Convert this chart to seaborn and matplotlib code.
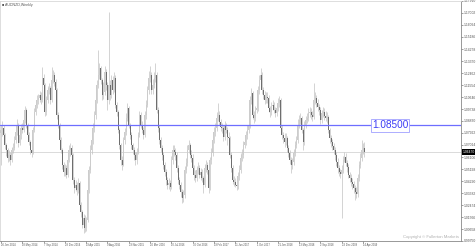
import matplotlib
matplotlib.use("Agg")
import matplotlib.pyplot as plt
import matplotlib.transforms as mtransforms
import numpy as np
import pandas as pd
import seaborn as sns

# ---------------- data (AUDNZD weekly) ----------------
first_open = 1.0790
closes = [
    1.0813, 1.0828, 1.0775, 1.0700, 1.0662, 1.0601, 1.0624, 1.0586, 1.0662, 1.0677,
    1.0738, 1.0798, 1.0851, 1.0715, 1.0775, 1.0828, 1.0813, 1.0889, 1.0964, 1.0851,
    1.0775, 1.0722, 1.0662, 1.0639, 1.0813, 1.0949, 1.1002, 1.1040, 1.1055, 1.1078,
    1.1040, 1.1206, 1.1153, 1.0949, 1.1040, 1.1116, 1.1131, 1.1040, 1.1191, 1.1229,
    1.1176, 1.1116, 1.0927, 1.0851, 1.0738, 1.0662, 1.0549, 1.0496, 1.0526, 1.0473,
    1.0586, 1.0662, 1.0677, 1.0624, 1.0435, 1.0375, 1.0397, 1.0360, 1.0413, 1.0246,
    1.0193, 1.0095, 1.0148, 1.0072, 1.0133, 1.0360, 1.0511, 1.0662, 1.0738, 1.0828,
    1.0927, 1.1040, 1.1153, 1.1229, 1.1282, 1.1191, 1.1078, 1.1100, 1.1252, 1.1153,
    1.1040, 1.1153, 1.1078, 1.1191, 1.1116, 1.1206, 1.1002, 1.0949, 1.0813, 1.0700,
    1.0586, 1.0549, 1.0738, 1.0798, 1.0904, 1.0980, 1.0851, 1.0775, 1.0700, 1.0662,
    1.0624, 1.0586, 1.0647, 1.0775, 1.0927, 1.0851, 1.0813, 1.0775, 1.0927, 1.1002,
    1.1116, 1.1206, 1.1229, 1.1116, 1.1153, 1.1206, 1.1229, 1.0964, 1.0828, 1.0738,
    1.0677, 1.0624, 1.0549, 1.0496, 1.0435, 1.0397, 1.0413, 1.0382, 1.0586, 1.0662,
    1.0647, 1.0624, 1.0526, 1.0435, 1.0397, 1.0344, 1.0299, 1.0322, 1.0511, 1.0564,
    1.0662, 1.0700, 1.0624, 1.0601, 1.0526, 1.0473, 1.0450, 1.0511, 1.0526, 1.0473,
    1.0496, 1.0450, 1.0397, 1.0526, 1.0549, 1.0511, 1.0375, 1.0586, 1.0639, 1.0738,
    1.0798, 1.0828, 1.0904, 1.0927, 1.0874, 1.0836, 1.0828, 1.0760, 1.0843, 1.0813,
    1.0760, 1.0753, 1.0624, 1.0526, 1.0435, 1.0420, 1.0397, 1.0390, 1.0465, 1.0511,
    1.0601, 1.0624, 1.0700, 1.0722, 1.0775, 1.0813, 1.0851, 1.1040, 1.1093, 1.0927,
    1.0904, 1.0964, 1.0980, 1.1116, 1.1191, 1.1229, 1.1116, 1.1078, 1.1040, 1.1063,
    1.1055, 1.0980, 1.0949, 1.0995, 1.1002, 1.0964, 1.0942, 1.0980, 1.1017, 1.1040,
    1.0828, 1.0775, 1.0753, 1.0722, 1.0753, 1.0677, 1.0639, 1.0586, 1.0549, 1.0571,
    1.0639, 1.0700, 1.0738, 1.0851, 1.0889, 1.0904, 1.0813, 1.0722, 1.0851, 1.0889,
    1.0904, 1.0942, 1.0949, 1.0927, 1.0911, 1.1040, 1.1055, 1.1017, 1.0987, 1.0964,
    1.0889, 1.0942, 1.0949, 1.0919, 1.0904, 1.0911, 1.0813, 1.0753, 1.0722, 1.0692,
    1.0662, 1.0624, 1.0571, 1.0526, 1.0496, 1.0481, 1.0511, 1.0586, 1.0609, 1.0564,
    1.0533, 1.0473, 1.0450, 1.0420, 1.0405, 1.0375, 1.0344, 1.0329, 1.0450, 1.0549,
    1.0601, 1.0662, 1.0677, 1.0647,
]
highs = [
    1.0850, 1.0880, 1.0850, 1.0790, 1.0720, 1.0680, 1.0660, 1.0650, 1.0690, 1.0720,
    1.0770, 1.0830, 1.0900, 1.0870, 1.0800, 1.0860, 1.0870, 1.0910, 1.1000, 1.0980,
    1.0870, 1.0800, 1.0740, 1.0690, 1.0840, 1.0980, 1.1040, 1.1080, 1.1090, 1.1110,
    1.1100, 1.1289, 1.1240, 1.1170, 1.1070, 1.1150, 1.1170, 1.1150, 1.1289, 1.1270,
    1.1250, 1.1200, 1.1130, 1.0950, 1.0870, 1.0760, 1.0680, 1.0570, 1.0560, 1.0550,
    1.0620, 1.0700, 1.0720, 1.0700, 1.0640, 1.0460, 1.0440, 1.0420, 1.0450, 1.0430,
    1.0270, 1.0210, 1.0180, 1.0170, 1.0160, 1.0390, 1.0540, 1.0700, 1.0770, 1.0870,
    1.0960, 1.1080, 1.1190, 1.1418, 1.1320, 1.1300, 1.1210, 1.1180, 1.1300, 1.1280,
    1.1180, 1.1705, 1.1190, 1.1230, 1.1220, 1.1250, 1.1230, 1.1030, 1.0970, 1.0830,
    1.0720, 1.0620, 1.0760, 1.0830, 1.0940, 1.1020, 1.1000, 1.0870, 1.0800, 1.0720,
    1.0690, 1.0650, 1.0680, 1.0800, 1.0960, 1.0950, 1.0880, 1.0840, 1.0960, 1.1040,
    1.1150, 1.1260, 1.1300, 1.1250, 1.1200, 1.1250, 1.1320, 1.1250, 1.0990, 1.0850,
    1.0760, 1.0700, 1.0650, 1.0570, 1.0520, 1.0460, 1.0450, 1.0440, 1.0620, 1.0700,
    1.0700, 1.0680, 1.0650, 1.0550, 1.0460, 1.0420, 1.0370, 1.0360, 1.0540, 1.0600,
    1.0700, 1.0740, 1.0720, 1.0660, 1.0630, 1.0550, 1.0510, 1.0540, 1.0570, 1.0550,
    1.0530, 1.0520, 1.0470, 1.0560, 1.0590, 1.0570, 1.0530, 1.0610, 1.0680, 1.0770,
    1.0840, 1.0870, 1.0950, 1.1017, 1.0960, 1.0900, 1.0870, 1.0850, 1.0880, 1.0870,
    1.0840, 1.0800, 1.0770, 1.0650, 1.0550, 1.0470, 1.0450, 1.0440, 1.0500, 1.0550,
    1.0640, 1.0670, 1.0730, 1.0760, 1.0810, 1.0850, 1.0890, 1.1070, 1.1131, 1.1110,
    1.0960, 1.1000, 1.1020, 1.1150, 1.1230, 1.1282, 1.1250, 1.1140, 1.1110, 1.1100,
    1.1100, 1.1080, 1.1000, 1.1030, 1.1040, 1.1030, 1.0990, 1.1020, 1.1060, 1.1070,
    1.1060, 1.0850, 1.0800, 1.0790, 1.0790, 1.0770, 1.0700, 1.0660, 1.0610, 1.0600,
    1.0670, 1.0730, 1.0770, 1.0900, 1.0930, 1.0940, 1.0920, 1.0830, 1.0880, 1.0920,
    1.0940, 1.0980, 1.0990, 1.0980, 1.0960, 1.1169, 1.1100, 1.1080, 1.1050, 1.1010,
    1.0990, 1.0970, 1.0990, 1.0980, 1.0960, 1.0950, 1.0930, 1.0830, 1.0780, 1.0750,
    1.0720, 1.0690, 1.0650, 1.0600, 1.0550, 1.0520, 1.0550, 1.0620, 1.0650, 1.0640,
    1.0590, 1.0560, 1.0500, 1.0480, 1.0450, 1.0430, 1.0400, 1.0380, 1.0480, 1.0580,
    1.0640, 1.0738, 1.0720, 1.0722,
]
lows = [
    1.0549, 1.0770, 1.0750, 1.0670, 1.0620, 1.0570, 1.0580, 1.0550, 1.0570, 1.0640,
    1.0660, 1.0720, 1.0780, 1.0690, 1.0700, 1.0750, 1.0790, 1.0800, 1.0870, 1.0830,
    1.0750, 1.0700, 1.0630, 1.0610, 1.0630, 1.0800, 1.0930, 1.0980, 1.1010, 1.1030,
    1.1010, 1.1030, 1.1120, 1.0920, 1.0930, 1.1020, 1.1090, 1.1010, 1.1030, 1.1170,
    1.1150, 1.1090, 1.0900, 1.0830, 1.0710, 1.0640, 1.0520, 1.0470, 1.0470, 1.0450,
    1.0460, 1.0570, 1.0620, 1.0590, 1.0410, 1.0340, 1.0350, 1.0320, 1.0340, 1.0220,
    1.0160, 1.0070, 1.0034, 1.0040, 1.0050, 1.0120, 1.0340, 1.0490, 1.0630, 1.0710,
    1.0800, 1.0900, 1.1020, 1.1130, 1.1200, 1.1160, 1.1040, 1.1050, 1.1080, 1.1120,
    1.0970, 1.1010, 1.1040, 1.1060, 1.1090, 1.1100, 1.0980, 1.0920, 1.0790, 1.0670,
    1.0550, 1.0510, 1.0540, 1.0710, 1.0780, 1.0880, 1.0830, 1.0750, 1.0670, 1.0630,
    1.0590, 1.0550, 1.0560, 1.0630, 1.0760, 1.0830, 1.0790, 1.0750, 1.0760, 1.0900,
    1.0990, 1.1090, 1.1180, 1.1090, 1.1090, 1.1130, 1.1180, 1.0940, 1.0800, 1.0710,
    1.0650, 1.0590, 1.0520, 1.0470, 1.0400, 1.0370, 1.0370, 1.0350, 1.0370, 1.0560,
    1.0620, 1.0590, 1.0500, 1.0410, 1.0370, 1.0310, 1.0262, 1.0270, 1.0300, 1.0490,
    1.0540, 1.0640, 1.0600, 1.0570, 1.0500, 1.0440, 1.0420, 1.0430, 1.0480, 1.0450,
    1.0440, 1.0420, 1.0337, 1.0380, 1.0500, 1.0480, 1.0337, 1.0360, 1.0560, 1.0620,
    1.0720, 1.0770, 1.0810, 1.0880, 1.0850, 1.0810, 1.0790, 1.0730, 1.0740, 1.0790,
    1.0700, 1.0680, 1.0600, 1.0500, 1.0410, 1.0390, 1.0382, 1.0360, 1.0370, 1.0440,
    1.0490, 1.0580, 1.0600, 1.0680, 1.0700, 1.0750, 1.0790, 1.0830, 1.1010, 1.0900,
    1.0870, 1.0880, 1.0940, 1.0960, 1.1090, 1.1170, 1.1090, 1.1050, 1.1010, 1.1020,
    1.1020, 1.0950, 1.0910, 1.0930, 1.0970, 1.0940, 1.0910, 1.0920, 1.0960, 1.0990,
    1.0800, 1.0750, 1.0720, 1.0690, 1.0700, 1.0650, 1.0610, 1.0560, 1.0488, 1.0520,
    1.0550, 1.0620, 1.0680, 1.0720, 1.0830, 1.0860, 1.0790, 1.0660, 1.0700, 1.0830,
    1.0870, 1.0880, 1.0910, 1.0900, 1.0880, 1.0900, 1.1010, 1.0990, 1.0960, 1.0930,
    1.0860, 1.0870, 1.0910, 1.0890, 1.0880, 1.0870, 1.0790, 1.0720, 1.0690, 1.0660,
    1.0630, 1.0590, 1.0540, 1.0490, 1.0470, 1.0450, 1.0148, 1.0490, 1.0570, 1.0540,
    1.0500, 1.0450, 1.0420, 1.0390, 1.0370, 1.0340, 1.0284, 1.0300, 1.0310, 1.0430,
    1.0530, 1.0580, 1.0630, 1.0610,
]
date_labels = [
    "26 Jan 2014", "18 May 2014", "7 Sep 2014", "28 Dec 2014", "19 Apr 2015",
    "9 Aug 2015", "29 Nov 2015", "20 Mar 2016", "10 Jul 2016", "30 Oct 2016",
    "19 Feb 2017", "11 Jun 2017", "1 Oct 2017", "21 Jan 2018", "13 May 2018",
    "2 Sep 2018", "23 Dec 2018", "14 Apr 2019",
]
date_label_bars = [0, 16, 32, 48, 64, 80, 96, 112, 128, 144, 160, 176, 192, 208, 224, 240, 256, 272]
price_ticks = [
    1.17910, 1.17002, 1.16094, 1.15186, 1.14278, 1.13370, 1.12462, 1.11554, 1.10646,
    1.09738, 1.08830, 1.07922, 1.07014, 1.06106, 1.05198, 1.04290, 1.03382, 1.02474,
    1.01566, 1.00658, 0.99750,
]
level_price = 1.08500
title_text = "AUDNZD,Weekly"
copyright_text = "Copyright \u00a9 Fullerton Markets"

# ---------------- frame ----------------
opens = [first_open] + closes[:-1]
df = pd.DataFrame({"open": opens, "close": closes, "high": highs, "low": lows})
df["bar"] = np.arange(len(df))
df["up"] = df["close"] >= df["open"]
df["body_lo"] = df[["open", "close"]].min(axis=1)
df["body_h"] = (df["close"] - df["open"]).abs().clip(lower=0.0004)

sns.set_theme(style="white")
plt.rcParams["font.family"] = ["Liberation Sans", "DejaVu Sans"]

W, H = 476, 248
fig = plt.figure(figsize=(W / 100, H / 100), dpi=100)
fig.patch.set_facecolor("white")
ax = fig.add_axes([0.0, 7 / H, 461 / W, 240 / H])
ax.set_facecolor("white")

ax.set_xlim(-0.75, 345.6)
ax.set_ylim(price_ticks[-1], price_ticks[0])

up_col, dn_col, wick_col = "#cccccc", "#6e6e6e", "#c2c2c2"

# wicks
ax.vlines(df["bar"], df["low"], df["high"], color=wick_col, lw=0.5, zorder=2)
# bodies
ax.bar(df["bar"], df["body_h"], bottom=df["body_lo"], width=0.75,
       color=np.where(df["up"], up_col, dn_col), linewidth=0, zorder=3)

# current price line
last = closes[-1]
ax.axhline(last, color="#d4d4d4", lw=0.6, zorder=1)

# horizontal level line
sns.lineplot(x=[-0.75, 345.6], y=[level_price, level_price], ax=ax,
             color="#6e6eff", lw=0.9, zorder=4)
trans = mtransforms.blended_transform_factory(ax.transAxes, ax.transData)
ax.text(390 / 461, level_price, f"{level_price:.5f}", transform=trans,
        ha="center", va="center", fontsize=7.2, color="#3c3cf5", zorder=6,
        bbox=dict(boxstyle="square,pad=0.12", fc="white", ec="#a0a0ff", lw=0.6))

# current price tag on the right axis
ax.text(1.003, last, f"{last:.5f}", transform=trans, ha="left", va="center",
        fontsize=2.4, color="white", clip_on=False, zorder=7,
        bbox=dict(boxstyle="square,pad=0.25", fc="black", ec="black", lw=0))

# title and copyright
ax.text(0.004, 0.992, "\u25a0 " + title_text, transform=ax.transAxes, ha="left",
        va="top", fontsize=2.6, color="#555555")
ax.text(0.996, 0.018, copyright_text, transform=ax.transAxes, ha="right",
        va="center", fontsize=3.1, color="#b0b0b0")

# axes styling
ax.yaxis.tick_right()
ax.set_yticks(price_ticks)
ax.set_yticklabels([f"{p:.5f}" for p in price_ticks])
ax.set_xticks(date_label_bars)
ax.set_xticklabels(date_labels, ha="left")
ax.tick_params(axis="y", labelsize=2.4, length=1.5, width=0.4, pad=0.6,
               colors="#555555", right=True, left=False)
ax.tick_params(axis="x", labelsize=1.9, length=1.2, width=0.4, pad=0.4,
               colors="#555555", bottom=True)
for s in ["left", "top"]:
    ax.spines[s].set_color("#d8d8d8")
    ax.spines[s].set_linewidth(0.6)
for s in ["right", "bottom"]:
    ax.spines[s].set_color("#888888")
    ax.spines[s].set_linewidth(0.6)
ax.grid(False)
leg = ax.get_legend()
if leg is not None:
    leg.remove()

fig.savefig("out.png", dpi=100, facecolor="white")
